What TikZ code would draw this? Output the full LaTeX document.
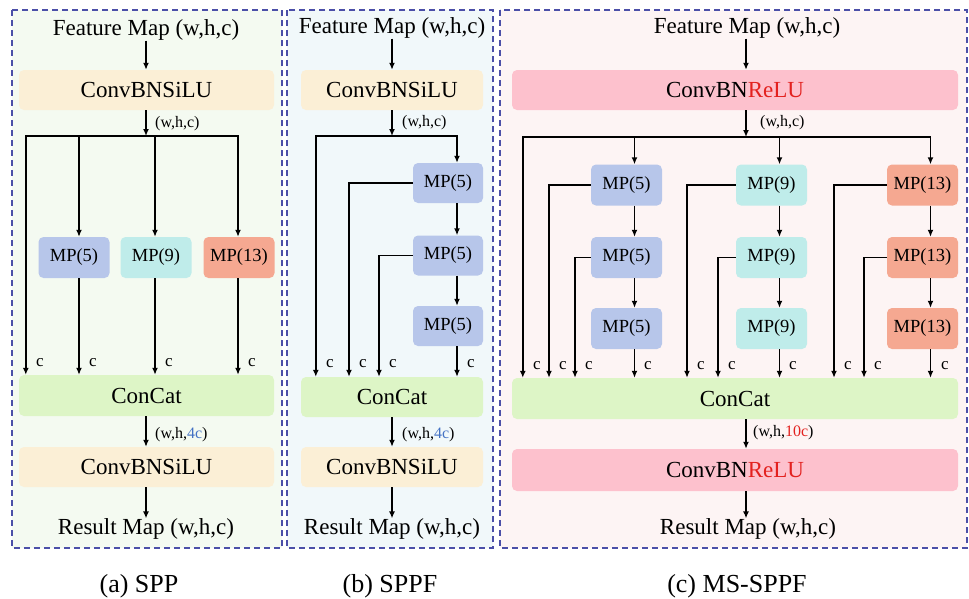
\documentclass[tikz,border=0pt]{standalone}
\usepackage{fontspec}
\setmainfont{Liberation Serif}
\usetikzlibrary{arrows.meta}
\definecolor{bgA}{HTML}{F4FAF1}
\definecolor{bgB}{HTML}{F1F8FA}
\definecolor{bgC}{HTML}{FDF4F4}
\definecolor{pancol}{HTML}{4B4FA8}
\definecolor{beige}{HTML}{FBEFD6}
\definecolor{concat}{HTML}{DDF5C6}
\definecolor{mpblue}{HTML}{B7C6EA}
\definecolor{mpcyan}{HTML}{BFECEA}
\definecolor{mpsalmon}{HTML}{F5A891}
\definecolor{pinkbox}{HTML}{FDC1CD}
\definecolor{redtxt}{HTML}{E3211F}
\definecolor{bluetxt}{HTML}{4472C4}
\tikzset{
  box/.style={rectangle, rounded corners=5pt, inner sep=0pt, minimum height=40pt, font=\fontsize{23}{23}\selectfont},
  mp/.style={rectangle, rounded corners=5pt, inner sep=0pt, minimum width=71pt, minimum height=41pt, font=\fontsize{18.5}{18.5}\selectfont},
  txt/.style={inner sep=0pt, font=\fontsize{23}{23}\selectfont},
  arr/.style={-{Latex[length=7pt,width=6pt]}, line width=1.6pt},
  lbl/.style={inner sep=0pt, anchor=west, font=\fontsize{16}{16}\selectfont},
  clab/.style={inner sep=0pt, font=\fontsize{17}{17}\selectfont},
  captxt/.style={inner sep=0pt, anchor=base, font=\fontsize{26}{26}\selectfont},
  panel/.style={draw=pancol, dash pattern=on 6pt off 4pt, line width=1.2pt}
}
\newcommand\clabel[2]{\node[clab] at (#1,#2) {c};}
\begin{document}
\begin{tikzpicture}[x=1pt,y=-1pt]
\useasboundingbox (0,0) rectangle (969,598);
\fill[white] (0,0) rectangle (969,598);
% panels
\filldraw[panel, fill=bgA] (12,10) rectangle (282,548);
\filldraw[panel, fill=bgB] (287,10) rectangle (493,548);
\filldraw[panel, fill=bgC] (500,10) rectangle (967,548);

% ================= Panel (a)
\node[txt] (fa) at (146,30) {Feature Map (w,h,c)};
\node[box, fill=beige, minimum width=255pt] (a1) at (146.5,90) {ConvBNSiLU};
\coordinate (ja) at (146,136);
\node[mp, fill=mpblue] (a5) at (74,257.5) {MP(5)};
\node[mp, fill=mpcyan] (a9) at (156,257.5) {MP(9)};
\node[mp, fill=mpsalmon] (a13) at (239,257.5) {MP(13)};
\node[box, fill=concat, minimum width=255pt, minimum height=41pt] (ac) at (146.5,395.5) {ConCat};
\node[box, fill=beige, minimum width=255pt] (a2) at (146.5,467) {ConvBNSiLU};
\node[txt] (ar) at (146,529) {Result Map (w,h,c)};

\draw[arr] (fa.south -| ja) -- (ja |- a1.north);
\draw[arr] (ja |- a1.south) -- (ja);
\draw[arr] (ja) -| ([xshift=7pt]ac.north west);
\draw[arr] (ja) -| ([xshift=5pt]a5.north);
\draw[arr] (ja) -| ([xshift=-1pt]a9.north);
\draw[arr] (ja) -| ([xshift=-1pt]a13.north);
\draw[arr] ([xshift=5pt]a5.south) -- ([xshift=5pt]a5.south |- ac.north);
\draw[arr] ([xshift=-1pt]a9.south) -- ([xshift=-1pt]a9.south |- ac.north);
\draw[arr] ([xshift=-1pt]a13.south) -- ([xshift=-1pt]a13.south |- ac.north);
\draw[arr] (ja |- ac.south) -- (ja |- a2.north);
\draw[arr] (ja |- a2.south) -- (ja |- ar.north);
\node[lbl] at (155,124) {(w,h,c)};
\node[lbl] at (155,435) {(w,h,\textcolor{bluetxt}{4c})};
\clabel{40}{363}\clabel{93}{363}\clabel{169}{363}\clabel{252}{363}

% ================= Panel (b)
\node[txt] (fb) at (392,28) {Feature Map (w,h,c)};
\node[box, fill=beige, minimum width=182pt] (b1) at (392,90) {ConvBNSiLU};
\coordinate (jb) at (392,136);
\node[mp, fill=mpblue, minimum width=70pt, minimum height=40pt] (b5a) at (448,183) {MP(5)};
\node[mp, fill=mpblue, minimum width=70pt, minimum height=40pt] (b5b) at (448,255.5) {MP(5)};
\node[mp, fill=mpblue, minimum width=70pt, minimum height=40pt] (b5c) at (448,326) {MP(5)};
\node[box, fill=concat, minimum width=182pt] (bc) at (392,397) {ConCat};
\node[box, fill=beige, minimum width=182pt] (b2) at (392,467) {ConvBNSiLU};
\node[txt] (br) at (392,529) {Result Map (w,h,c)};
\coordinate (kb1) at (349,0);
\coordinate (kb2) at (379,0);

\draw[arr] (fb.south) -- (fb.south |- b1.north);
\draw[arr] (jb |- b1.south) -- (jb);
\draw[arr] (jb) -| ([xshift=15pt]bc.north west);
\draw[arr] (jb) -| ([xshift=9pt]b5a.north);
\draw[arr] ([xshift=9pt]b5a.south) -- ([xshift=9pt]b5b.north);
\draw[arr] ([xshift=9pt]b5b.south) -- ([xshift=9pt]b5c.north);
\draw[arr] ([xshift=9pt]b5c.south) -- ([xshift=9pt]b5c.south |- bc.north);
\draw[arr] (b5a.west) -| (kb1 |- bc.north);
\draw[arr] (b5b.west) -| (kb2 |- bc.north);
\draw[arr] (jb |- bc.south) -- (jb |- b2.north);
\draw[arr] (jb |- b2.south) -- (jb |- br.north);
\node[lbl] at (402,123) {(w,h,c)};
\node[lbl] at (402,435) {(w,h,\textcolor{bluetxt}{4c})};
\clabel{330}{364}\clabel{363}{364}\clabel{393}{364}\clabel{471}{364}

% ================= Panel (c)
\node[txt] (fc) at (747,28) {Feature Map (w,h,c)};
\node[box, fill=pinkbox, minimum width=446pt] (c1) at (735,90) {ConvBN\textcolor{redtxt}{ReLU}};
\coordinate (jc) at (746,137);
\foreach \n/\cx/\col/\t in {g1/626.5/mpblue/5, g2/771.5/mpcyan/9, g3/922.5/mpsalmon/13}{
  \node[mp, fill=\col] (\n a) at (\cx,185) {MP(\t)};
  \node[mp, fill=\col] (\n b) at (\cx,257.5) {MP(\t)};
  \node[mp, fill=\col] (\n c) at (\cx,328.5) {MP(\t)};
}
\node[box, fill=concat, minimum width=446pt, minimum height=41pt] (cc) at (735,398.5) {ConCat};
\node[box, fill=pinkbox, minimum width=446pt, minimum height=42pt] (c2) at (735,470) {ConvBN\textcolor{redtxt}{ReLU}};
\node[txt] (cr) at (748,529) {Result Map (w,h,c)};
\coordinate (k11) at (549,0); \coordinate (k12) at (575,0);
\coordinate (k21) at (687,0); \coordinate (k22) at (718,0);
\coordinate (k31) at (834,0); \coordinate (k32) at (864,0);

\draw[arr] (fc.south -| jc) -- (jc |- c1.north);
\draw[arr] (jc |- c1.south) -- (jc);
\draw[arr] (jc) -| ([xshift=11pt]cc.north west);
\foreach \n/\k in {g1/1, g2/2, g3/3}{
  \draw[arr] (jc) -| ([xshift=8pt]\n a.north);
  \draw[arr] ([xshift=8pt]\n a.south) -- ([xshift=8pt]\n b.north);
  \draw[arr] ([xshift=8pt]\n b.south) -- ([xshift=8pt]\n c.north);
  \draw[arr] ([xshift=8pt]\n c.south) -- ([xshift=8pt]\n c.south |- cc.north);
  \draw[arr] (\n a.west) -| (k\k1 |- cc.north);
  \draw[arr] (\n b.west) -| (k\k2 |- cc.north);
}
\draw[arr] (jc |- cc.south) -- (jc |- c2.north);
\draw[arr] (jc |- c2.south) -- (jc |- cr.north);
\node[lbl] at (760,123) {(w,h,c)};
\node[lbl] at (753,433) {(w,h,\textcolor{redtxt}{10c})};
\clabel{537}{366}\clabel{563}{366}\clabel{589}{366}\clabel{648}{366}
\clabel{701}{366}\clabel{732}{366}\clabel{793}{366}
\clabel{848}{366}\clabel{878}{366}\clabel{945}{366}

% captions
\node[captxt] (capa) at (139,592) {(a) SPP};
\node[captxt] (capb) at (390,592) {(b) SPPF};
\node[captxt] (capc) at (737,592) {(c) MS-SPPF};
\end{tikzpicture}
\end{document}
